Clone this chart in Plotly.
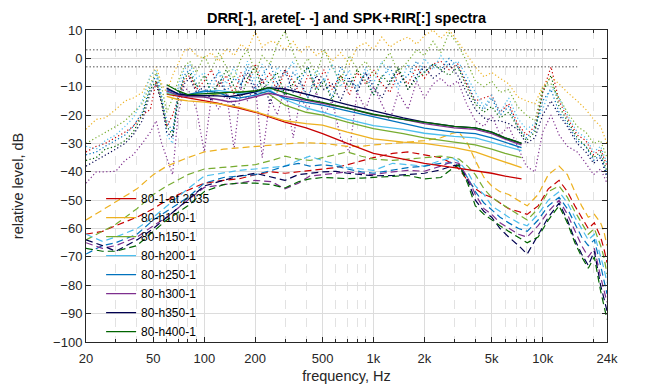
import math
import plotly.graph_objects as go

# ---------------- data ----------------
SERIES = ["80-1-at.2035", "80-h100-1", "80-h150-1", "80-h200-1",
          "80-h250-1", "80-h300-1", "80-h350-1", "80-h400-1"]
COLORS = ["#C80000", "#EDB120", "#77AC30", "#4DBEEE",
          "#0072BD", "#7E2F8E", "#000050", "#006400"]

X_TICKS = [20, 50, 100, 200, 500, 1000, 2000, 5000, 10000, 24000]
X_TICK_TEXT = ["20", "50", "100", "200", "500", "1k", "2k", "5k", "10k", "24k"]
X_MINOR = [30, 40, 60, 70, 80, 90, 300, 400, 600, 700, 800, 900,
           3000, 4000, 6000, 7000, 8000, 9000, 20000]

REF_FREQ = [20, 16000]
REF_LEVELS = [3, -3]

# DRR (solid)
DRR_FREQ = [60, 70, 80, 100, 120, 140, 160, 200, 240, 300, 400, 500, 700,
            1000, 1500, 2000, 3000, 4000, 5000, 6000, 7500]
DRR_1 = [-12.6, -13.3, -13.9, -14.9, -15.8, -16.8, -17.5, -19, -20.5, -22.5, -24.5, -26.5, -30,
         -33.5, -35.5, -37, -38.5, -39.5, -40.5, -41.5, -42.5]
DRR_2 = [-13.4, -14.5, -15, -15.4, -16, -16.6, -17.2, -18.8, -20.3, -22, -23, -23.5, -26,
         -28.4, -29.5, -30, -31.5, -33, -35, -36.5, -38.5]
DRR_3 = [-12.4, -13, -13.3, -13.2, -12.5, -12, -11.8, -11.5, -12.5, -16.5, -19, -20, -22.5,
         -24.8, -26.5, -28, -29.5, -30.5, -32, -33.5, -35]
DRR_4 = [-12, -12.8, -13, -11.8, -11.3, -11.8, -12.3, -12, -11, -14.5, -17.5, -19, -21.5,
         -23.7, -25, -26.4, -27.5, -28, -29.5, -31, -32.5]
DRR_5 = [-11, -12.5, -12.8, -11.5, -12, -13.5, -14, -13, -11.5, -14, -15.5, -16.5, -18.5,
         -20.6, -23, -24.6, -26, -26.5, -28, -29.5, -31.5]
DRR_6 = [-11.5, -13, -13.5, -13.7, -14.5, -15.3, -15, -13.5, -12.3, -13.4, -14.8, -15.8, -17.5,
         -19.9, -21.5, -23, -24.5, -25, -26.5, -28.5, -30.5]
DRR_7 = [-10.5, -12.5, -13, -13, -13.2, -13.5, -13, -11.8, -10.3, -10.8, -12.5, -14, -16.3,
         -18.5, -21, -22.5, -24, -24.5, -26, -28, -30]
DRR_8 = [-9.3, -11.5, -12.8, -12.5, -12, -12, -12, -11.5, -10.3, -12.2, -14.5, -15.5, -17.5,
         -19.7, -21.5, -22.5, -24, -24.5, -26, -28, -30]

# arete (dashed)
ARETE_FREQ = [20, 25, 30, 40, 50, 60, 80, 100, 130, 160,
              200, 250, 300, 360, 420, 500, 600, 700, 850, 1000,
              1300, 1600, 2000, 2500, 2900, 3200, 3600, 4000, 4500, 5000,
              5600, 6300, 7200, 8100, 9400, 10800, 12500, 14000, 15500, 17000,
              18600, 20200, 22000, 23000, 24000]
ARETE_1 = [-62, -61, -59, -56, -53, -50, -46.5, -44, -43, -42.5,
           -41, -40, -40.5, -40, -39.5, -39, -38.5, -37.5, -36, -35,
           -33.5, -33, -34, -35, -37, -39, -43, -46, -48, -49,
           -51, -53, -54, -55, -52, -46, -43, -47, -52, -56,
           -60, -58, -63, -67, -72]
ARETE_2 = [-57, -53.5, -50.5, -46, -41, -38, -35, -33, -32, -31.5,
           -31, -30.5, -30, -29.8, -29.8, -30, -30.5, -31, -31, -30.5,
           -30, -29.5, -29, -28, -26.5, -26, -30, -36, -42, -45,
           -47, -48, -50, -52, -48, -41, -38, -41, -47, -52,
           -56, -55, -58, -61, -66]
ARETE_3 = [-64, -61, -58.5, -53, -48, -45, -41, -39, -38.5, -38,
           -37.5, -36, -34.5, -35.5, -36, -35, -34, -33, -34.5, -35.5,
           -36, -35.5, -35, -34.5, -35, -35.5, -38, -41, -46, -49,
           -51, -53, -55, -57, -53, -47, -45, -49, -54, -58,
           -62, -60, -66, -70, -76]
ARETE_4 = [-62, -64.5, -63, -60, -56, -52, -46, -41.5, -40.5, -39.5,
           -39, -38.5, -38, -36, -34.5, -36, -37.5, -38.5, -39, -39.5,
           -37, -37.5, -38, -36, -35, -36.5, -40, -45, -48, -52,
           -54, -56, -58, -59, -55, -50, -47, -51, -56, -60,
           -64, -62, -70, -74, -79]
ARETE_5 = [-69, -66, -65, -62, -57, -54, -49, -44, -42, -41.5,
           -41, -39.5, -38, -37, -38, -37.5, -38, -39, -40, -40.5,
           -39.5, -38.5, -38, -37, -36.8, -38, -42, -47, -51, -53.5,
           -56, -58, -60, -61, -57, -52, -49, -53, -58, -63,
           -66, -64, -73, -78, -83]
ARETE_6 = [-65, -67, -66, -63, -59, -56, -50, -45.5, -44.5, -44,
           -43, -43.5, -46, -44, -41.5, -41, -40.5, -40, -40.5, -41,
           -40, -39.5, -39.8, -38, -36.5, -37, -42, -48, -53, -55,
           -58, -60, -62, -63, -59, -54, -50, -55, -61, -66,
           -70, -67, -77, -82, -86]
ARETE_7 = [-64, -66, -68, -64, -60, -56, -50, -45, -43, -41.5,
           -40.5, -42, -43, -41, -40.5, -40, -39.8, -40.5, -41, -41.4,
           -41.3, -41, -40.5, -39.3, -38, -37.6, -43, -50, -54, -56,
           -60, -63, -66, -69, -62, -56, -51, -57, -64, -69,
           -73, -68, -80, -85, -89]
ARETE_8 = [-67, -68, -68, -66, -61, -57, -52, -47, -44.5, -44,
           -44, -44.5, -45.7, -43.5, -42.5, -42, -42.2, -42.4, -42.2, -42,
           -41.5, -41.3, -42.5, -42, -39, -37.6, -44, -52, -55, -57,
           -59, -61, -63, -65, -63, -57, -52, -58, -65, -70,
           -74, -70, -82, -87, -92]

# SPK+RIR (dotted)
SPK_FREQ = [20, 23, 26, 30, 34, 38, 43, 48, 52, 56,
            60, 65, 70, 76, 82, 90, 100, 110, 122, 135,
            150, 165, 180, 200, 220, 245, 270, 300, 335, 370,
            410, 460, 510, 570, 640, 720, 800, 900, 1000, 1120,
            1250, 1400, 1600, 1800, 2000, 2250, 2500, 2800, 3150, 3550,
            4000, 4500, 5000, 5600, 6300, 7100, 8000, 9000, 10000, 11200,
            12500, 14000, 16000, 18000, 20000, 22000, 24000]
SPK_1 = [-33, -31, -30, -28, -26, -24, -20, -18, -8, -16,
         -24, -20, -14, -8, -6, -11, -8, -4, -10, -6,
         -13, -5, -9, -2, -9, -5, -12, -4, -8, -13,
         -6, -10, -4, -11, -6, -13, -5, -9, -4, -9,
         -12, -5, -9, -3, -7, -2, -1, -4, -2, -9,
         -15, -14, -13, -19, -16, -23, -27, -24, -12, -3,
         -15, -21, -27, -29, -34, -32, -38]
SPK_2 = [-25, -21.5, -21, -18, -15, -14, -12, -7, -3, -9,
         -12, -6, -2, 2.5, 3.5, 1, 0, 2, -1, 3.5,
         1, 5, 3, 9.5, 4, 6, 5.5, 3, 6, 2,
         4.5, 1, 3, -1, 2, -2, 4, 5.5, 3, 7.5,
         4, 6, 7.5, 5, 8, 10, 7, 10, 6, 1.5,
         -3, -6.5, -5, -7, -9, -13.5, -15, -16, -10, -6.5,
         -9, -12, -15, -18, -21.5, -24, -30]
SPK_3 = [-30, -28, -26, -24, -22, -19, -16, -9, -5, -10,
         -19, -14, -8, -3, -1, -5, 1, -4, 2, -3,
         -7, 0, 3, -5, 1, -2, 5, 9.5, 2, -4,
         0, -6, 3, -3, -8, 1, -4, -1, -6, -2,
         2, -5, -1, 3, 1, 6, 2, 9, 5, -1,
         -8, -10, -8, -12, -11, -17, -20, -22, -10, -9,
         -14, -19, -24, -26, -30, -29, -35]
SPK_4 = [-31, -32, -29, -27, -24, -21, -15, -6, -4, -13,
         -27, -30, -10, -4, -2, -7, -5, -12, -4, -9,
         -3, -10, -1, -8, -2, -12, -3, -6, -1, -9,
         -14, -4, -8, -2, -10, -4, -12, -3, -9, -1,
         -6, -11, -2, -8, 0, -4, 1, -3, -1, -6,
         -12, -17, -13, -19, -14, -21, -25, -23, -18, -10,
         -14, -20, -26, -28, -33, -31, -37]
SPK_5 = [-34, -33, -31, -29, -27, -24, -19, -10, -6, -14,
         -22, -26, -13, -6, -4, -9, -14, -8, -5, -12,
         -7, -9, -3, -11, -6, -2, -9, -13, -5, -8,
         -3, -11, -7, -14, -3, -8, -10, -5, -13, -7,
         -3, -9, -6, -1, -5, -2, -4, 0, -3, -8,
         -15, -18, -14, -20, -17, -24, -28, -25, -15, -11,
         -19, -23, -29, -31, -36, -34, -41]
SPK_6 = [-44, -40, -40, -39.8, -36, -34, -30, -26, -22, -30,
         -35, -41, -20, -10, -12, -18, -33, -14, -18, -12,
         -32, -10, -15, -9, -35, -14, -20, -10, -28, -14,
         -18, -12, -20, -15, -28, -33, -12, -18, -10, -16,
         -22, -12, -18, -8, -14, -9, -7, -10, -8, -16,
         -22, -24, -20, -27, -24, -31, -38, -40, -26, -20,
         -27, -31, -33, -37, -41, -39, -44]
SPK_7 = [-38, -36, -34, -32, -30, -27, -22, -12, -9, -16,
         -26, -28, -15, -9, -7, -12, -10, -15, -8, -12,
         -17, -9, -5, -13, -7, -16, -9, -4, -12, -8,
         -14, -6, -11, -9, -15, -7, -12, -5, -10, -14,
         -8, -4, -11, -6, -3, -7, -5, -2, -6, -12,
         -18, -21, -22, -22, -23, -25, -30, -28, -20, -15,
         -20, -24, -30, -33, -37, -35, -42]
SPK_8 = [-36, -35, -32, -31, -29, -26, -20, -11, -8, -15,
         -24, -27, -14, -7, -5, -10, -6, -12, -9, -4,
         -10, -14, -7, -3, -11, -8, -5, -13, -9, -6,
         -3, -12, -8, -15, -6, -10, -4, -8, -13, -6,
         -9, -3, -11, -7, -5, -2, -4, -6, -3, -10,
         -16, -19, -17, -21, -19, -24, -29, -26, -12, -6,
         -17, -22, -28, -31, -35, -33, -40]

DRR = [DRR_1, DRR_2, DRR_3, DRR_4, DRR_5, DRR_6, DRR_7, DRR_8]
ARETE = [ARETE_1, ARETE_2, ARETE_3, ARETE_4, ARETE_5, ARETE_6, ARETE_7, ARETE_8]
SPK = [SPK_1, SPK_2, SPK_3, SPK_4, SPK_5, SPK_6, SPK_7, SPK_8]

# ---------------- figure ----------------
FONT = "Liberation Sans, Arial, sans-serif"
AX = "#262626"

fig = go.Figure()

for i in range(len(SERIES)):
    fig.add_trace(go.Scatter(x=SPK_FREQ, y=SPK[i], mode="lines", showlegend=False,
                             line=dict(color=COLORS[i], width=1.2, dash="1.2px,2.4px"),
                             hoverinfo="skip"))

for lvl in REF_LEVELS:
    fig.add_trace(go.Scatter(x=REF_FREQ, y=[lvl, lvl], mode="lines", showlegend=False,
                             line=dict(color="#8C8C8C", width=1.5, dash="1.5px,2px"),
                             hoverinfo="skip"))

for i in range(len(SERIES)):
    fig.add_trace(go.Scatter(x=ARETE_FREQ, y=ARETE[i], mode="lines", showlegend=False,
                             line=dict(color=COLORS[i], width=1.2, dash="7px,4px"),
                             hoverinfo="skip"))

for i in range(len(SERIES)):
    fig.add_trace(go.Scatter(x=DRR_FREQ, y=DRR[i], mode="lines", name=SERIES[i],
                             line=dict(color=COLORS[i], width=1.3)))

fig.update_layout(
    width=672, height=384,
    margin=dict(l=86, r=65, t=30, b=42, autoexpand=False),
    paper_bgcolor="white", plot_bgcolor="white",
    font=dict(family=FONT, color=AX),
    title=dict(text="<b>DRR[-], arete[- -] and SPK+RIR[:] spectra</b>",
               x=0.5, xref="paper", xanchor="center",
               y=1 - 18 / 384, yref="container", yanchor="middle",
               font=dict(size=14.5, color="black", family=FONT)),
    legend=dict(x=0.029, y=0.506, xanchor="left", yanchor="top",
                bgcolor="rgba(0,0,0,0)", borderwidth=0,
                font=dict(size=12, color="black", family=FONT),
                tracegroupgap=0),
    xaxis=dict(type="log", range=[math.log10(20), math.log10(24000)],
               tickvals=X_TICKS, ticktext=X_TICK_TEXT, automargin=False,
               ticks="inside", ticklen=5, tickcolor=AX, tickwidth=1,
               showline=True, linecolor=AX, linewidth=1, mirror="ticks",
               showgrid=True, gridcolor="#DCDCDC", gridwidth=1, zeroline=False,
               tickfont=dict(size=13, color=AX),
               ticklabelstandoff=4,
               minor=dict(tickvals=X_MINOR, showgrid=True, gridcolor="#E2E2E2",
                          griddash="dash", gridwidth=1, ticks="inside", ticklen=3,
                          tickcolor=AX),
               title=dict(text="frequency, Hz", font=dict(size=14.5, color=AX), standoff=6)),
    yaxis=dict(range=[-100, 10], tick0=0, dtick=10, automargin=False,
               ticks="inside", ticklen=5, tickcolor=AX, tickwidth=1,
               showline=True, linecolor=AX, linewidth=1, mirror="ticks",
               showgrid=True, gridcolor="#DCDCDC", gridwidth=1, zeroline=False,
               tickfont=dict(size=13, color=AX),
               title=dict(text="relative level, dB", font=dict(size=14.5, color=AX), standoff=26)),
)

fig.write_html("out.html", config={"displayModeBar": False},
               post_script="document.body.style.margin='0';")
